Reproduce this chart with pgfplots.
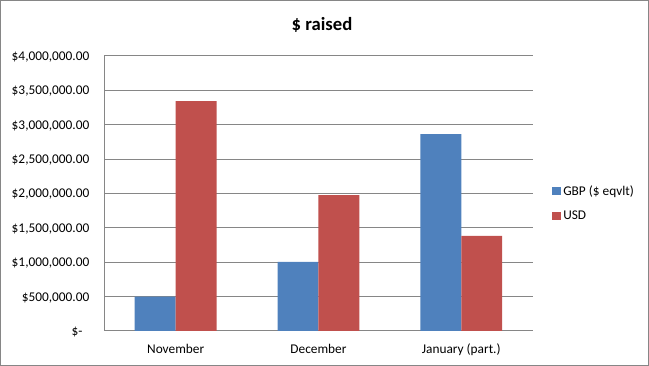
\documentclass[border=0pt]{standalone}
\usepackage{pgfplots}
\pgfplotsset{compat=1.18}
\usepackage{fontspec}
\setmainfont{Carlito}
\definecolor{xlblue}{HTML}{4F81BD}
\definecolor{xlred}{HTML}{C0504D}
\definecolor{xlgrid}{HTML}{868686}
\begin{document}
\begin{tikzpicture}
\useasboundingbox (0,0) rectangle (486.75pt,274.5pt);
\draw[xlgrid,line width=0.75pt] (0.5pt,0.5pt) rectangle (486.25pt,274pt);
\node[font=\fontsize{14}{17}\selectfont\bfseries] at (241.5pt,255.5pt) {\$ raised};
\begin{axis}[
  at={(78.2pt,26.25pt)}, anchor=south west,
  scale only axis, width=321.3pt, height=206.25pt,
  ybar=0pt, bar width=30.7pt,
  xmin=-0.5, xmax=2.5, ymin=0, ymax=4000000,
  xtick={0,1,2},
  xticklabels={November,December,January (part.)},
  ytick={0,500000,1000000,1500000,2000000,2500000,3000000,3500000,4000000},
  yticklabels={\$-\hphantom{0},\$500{,}000.00,\$1{,}000{,}000.00,\$1{,}500{,}000.00,\$2{,}000{,}000.00,\$2{,}500{,}000.00,\$3{,}000{,}000.00,\$3{,}500{,}000.00,\$4{,}000{,}000.00},
  scaled y ticks=false,
  major tick length=0pt,
  axis x line*=bottom, axis y line*=left,
  axis line style={xlgrid, line width=0.75pt, -},
  ymajorgrids, grid style={xlgrid, line width=0.75pt},
  tick label style={font=\fontsize{10}{12}\selectfont, inner sep=0pt},
  yticklabel style={anchor=base east, xshift=-11pt, yshift=-3.3pt},
  xticklabel style={anchor=base, yshift=-16.8pt},
  legend style={at={(1.045,0.464)}, anchor=west, draw=none, fill=none,
    font=\fontsize{10}{12}\selectfont, row sep=6pt, inner sep=0pt,
    legend cell align=left},
  legend image code/.code={\fill[#1] (0pt,-3pt) rectangle (6.3pt,3.3pt);},
]
\addplot[fill=xlblue, draw=none] coordinates {(0,500000) (1,1004000) (2,2865000)};
\addplot[fill=xlred, draw=none] coordinates {(0,3345000) (1,1978000) (2,1382000)};
\legend{GBP (\$ eqvlt),USD}
\end{axis}
\end{tikzpicture}
\end{document}
